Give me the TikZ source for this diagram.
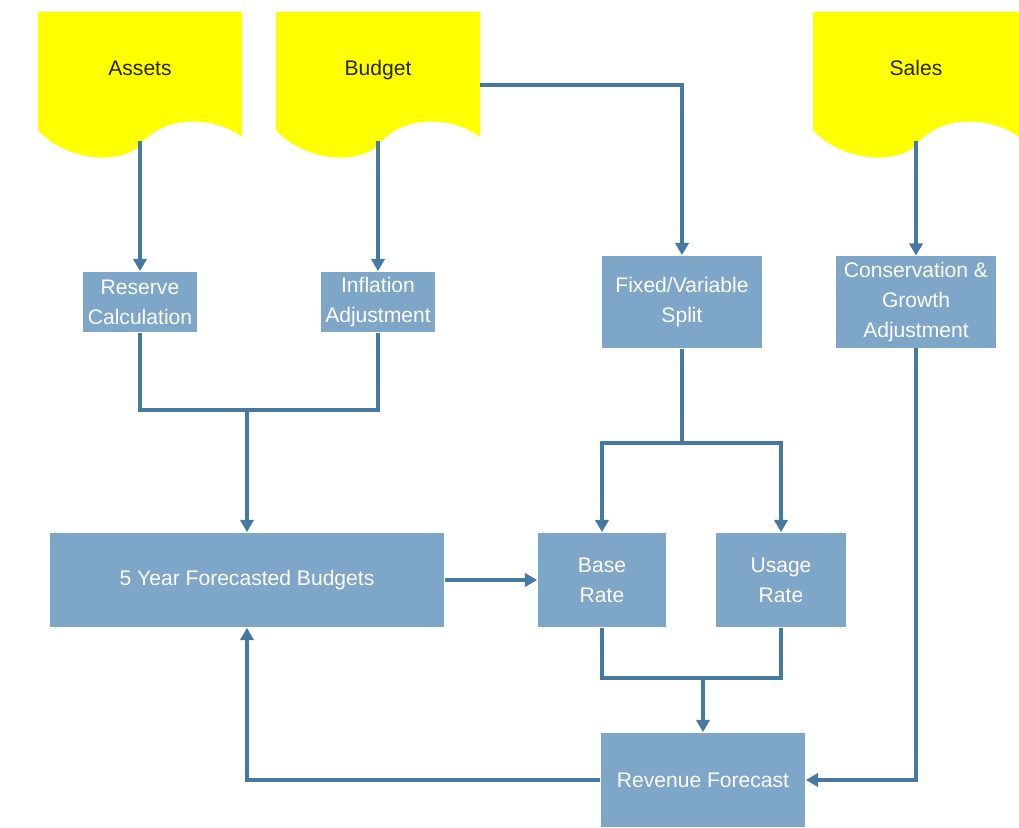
\documentclass[tikz,border=0pt]{standalone}
\usepackage{fontspec}
\setmainfont{Liberation Sans}
\usetikzlibrary{positioning, calc, arrows.meta}
\definecolor{Paper}{HTML}{FFFF00}
\definecolor{Ink}{HTML}{262600}
\definecolor{Steel}{HTML}{7EA6C8}
\definecolor{Wire}{HTML}{46799F}
\tikzset{
    docnode/.style={rectangle, anchor=north, inner sep=0pt, minimum width=4.08cm, text height=1.26cm, text depth=1.3cm, text=Ink, font=\fontsize{12}{17}\selectfont},
    flowbox/.style={rectangle, fill=Steel, text=white, align=center, inner sep=0pt, font=\fontsize{12}{17}\selectfont},
    connector/.style={line width=2.1pt, color=Wire},
    arrow/.style={connector, -{Triangle[length=7pt, width=7.5pt]}},
}
\begin{document}
\begin{tikzpicture}[x=0.02cm, y=-0.02cm]
        \fill[white] (0,0) rectangle (1019,828);
        \useasboundingbox (0,0) rectangle (1019,828);
        % wavy document sheets
        \foreach \l/\r in {38/242, 276/480, 813/1019}{
            \pgfmathsetmacro\w{\r-\l}
            \fill[Paper] (\l,12) -- (\r,12) -- (\r,137)
                .. controls (\r-0.12*\w,118) and (\r-0.37*\w,112) .. (\r-0.5*\w,145)
                .. controls (\r-0.59*\w,165) and (\r-0.86*\w,162) .. (\l,130) -- cycle;
        }
        \node[docnode] (assets) at (140,12) {Assets};
        \node[docnode] (budget) at (378,12) {Budget};
        \node[docnode] (sales) at (916,12) {Sales};

        \node[flowbox, minimum width=2.28cm, minimum height=1.22cm] (reserve) at (140,302) {Reserve\\Calculation};
        \node[flowbox, minimum width=2.28cm, minimum height=1.22cm] (inflation) at (378,302) {Inflation\\Adjustment};
        \node[flowbox, minimum width=3.22cm, minimum height=1.86cm] (fixed) at (682,302) {Fixed/Variable\\Split};
        \node[flowbox, minimum width=3.2cm, minimum height=1.84cm] (conservation) at (916,302) {Conservation \&\\Growth\\Adjustment};
        \node[flowbox, minimum width=7.9cm, minimum height=1.9cm] (budgets) at (247,580) {5 Year Forecasted Budgets};
        \node[flowbox, minimum width=2.58cm, minimum height=1.9cm] (base) at (602,580) {Base\\Rate};
        \node[flowbox, minimum width=2.6cm, minimum height=1.9cm] (usage) at (781,580) {Usage\\Rate};
        \node[flowbox, minimum width=4.1cm, minimum height=1.9cm] (revenue) at (703,780) {Revenue Forecast};

        \coordinate (join) at (247,410);
        \coordinate (split) at (682,443);
        \coordinate (merge) at (703,678);

        \draw[arrow] (assets.south) -- (reserve.north);
        \draw[arrow] (budget.south) -- (inflation.north);
        \draw[arrow] ([yshift=-0.18cm]budget.east) -| (fixed.north);
        \draw[arrow] (sales.south) -- (conservation.north);

        \draw[connector] (reserve.south) |- (join) -| (inflation.south);
        \draw[arrow] (join) -- (budgets.north);

        \draw[connector] (fixed.south) -- (split);
        \draw[arrow] (split) -| (base.north);
        \draw[arrow] (split) -| (usage.north);

        \draw[arrow] (budgets.east) -- (base.west);
        \draw[connector] (base.south) |- (merge) -| (usage.south);
        \draw[arrow] (merge) -- (revenue.north);

        \draw[arrow] (conservation.south) |- (revenue.east);
        \draw[arrow] (revenue.west) -| (budgets.south);
    \end{tikzpicture}
\end{document}
